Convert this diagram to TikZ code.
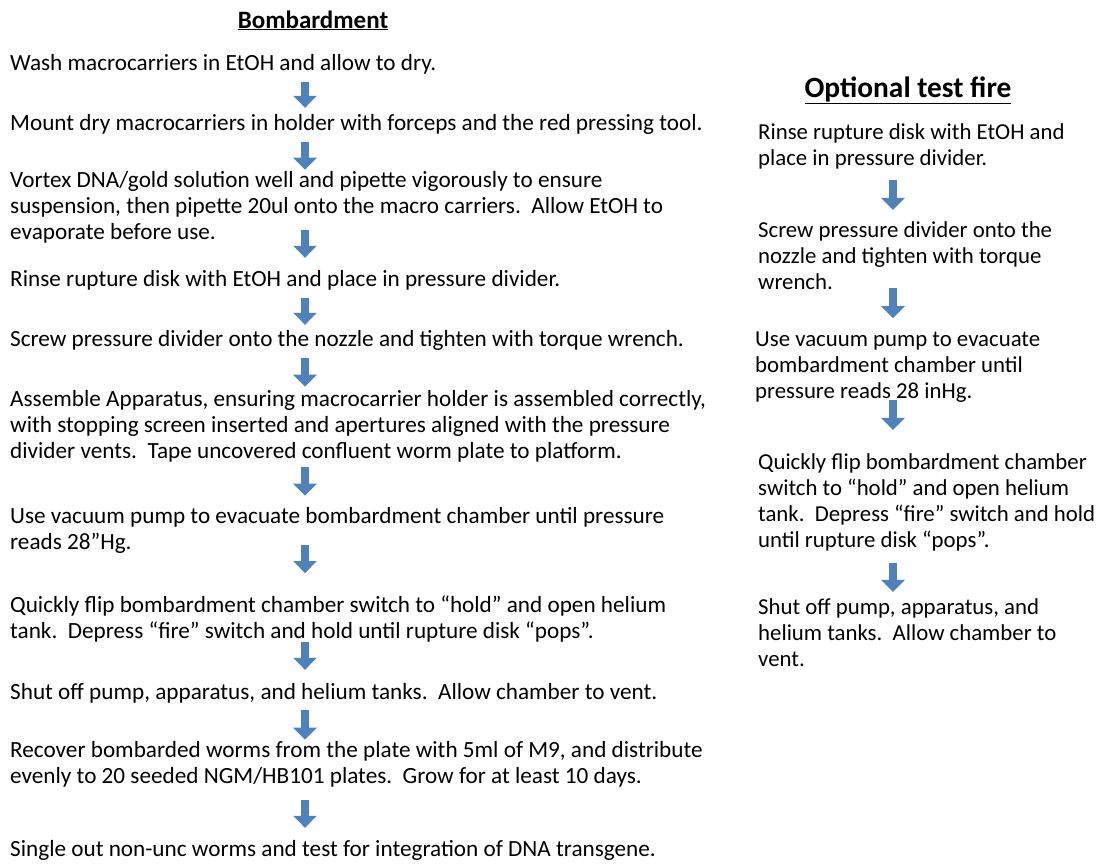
\documentclass[tikz,border=0pt]{standalone}
\usepackage{fontspec}
\setmainfont{Carlito}
\usepackage{xcolor}
\usepackage{tikz}
\usetikzlibrary{arrows.meta,positioning}
\definecolor{arrowblue}{HTML}{4F81BD}

\begin{document}
\begin{tikzpicture}[x=1pt,y=-1pt,
  title/.style={anchor=base,inner sep=0pt,font=\fontsize{25}{30}\selectfont\bfseries},
  % base anchor = last line; first line given a fixed height, last line a fixed depth
  stepbox/.style={anchor=base west,inner sep=0pt,align=left,
    execute at begin node={\vrule width 0pt height 18pt depth 0pt},
    execute at end node={\vrule width 0pt height 0pt depth 6pt},
    font=\fontsize{22.8}{26}\selectfont},
  lstep/.style={stepbox,font=\fontsize{23.2}{26}\selectfont},
  flow/.style={draw=arrowblue,line width=8pt,-{Triangle[width=23pt,length=12pt]}}]
  \useasboundingbox (0,0) rectangle (1102,863);
  % left column
  \node[title] (T1) at (313,28) {\underline{Bombardment}};
  \node[lstep] (B1)  at (10,70)  {Wash macrocarriers in EtOH and allow to dry.};
  \node[lstep] (B2)  at (10,130) {Mount dry macrocarriers in holder with forceps and the red pressing tool.};
  \node[lstep] (B3)  at (10,239) {Vortex DNA/gold solution well and pipette vigorously to ensure\\
    suspension, then pipette 20ul onto the macro carriers.\ \ Allow EtOH to\\
    evaporate before use.};
  \node[lstep] (B4)  at (10,286) {Rinse rupture disk with EtOH and place in pressure divider.};
  \node[lstep] (B5)  at (10,346) {Screw pressure divider onto the nozzle and tighten with torque wrench.};
  \node[lstep] (B6)  at (10,458) {Assemble Apparatus, ensuring macrocarrier holder is assembled correctly,\\
    with stopping screen inserted and apertures aligned with the pressure\\
    divider vents.\ \ Tape uncovered confluent worm plate to platform.};
  \node[lstep] (B7)  at (10,549) {Use vacuum pump to evacuate bombardment chamber until pressure\\
    reads 28”Hg.};
  \node[lstep] (B8)  at (10,638) {Quickly flip bombardment chamber switch to “hold” and open helium\\
    tank.\ \ Depress “fire” switch and hold until rupture disk “pops”.};
  \node[lstep] (B9)  at (10,699) {Shut off pump, apparatus, and helium tanks.\ \ Allow chamber to vent.};
  \node[lstep] (B10) at (10,783) {Recover bombarded worms from the plate with 5ml of M9, and distribute\\
    evenly to 20 seeded NGM/HB101 plates.\ \ Grow for at least 10 days.};
  \node[lstep] (B11) at (10,856) {Single out non-unc worms and test for integration of DNA transgene.};
  % right column
  \node[title,font=\fontsize{29.4}{34}\selectfont\bfseries] (T2) at (908,97) {\underline{Optional test fire}};
  \node[stepbox] (R1) at (758,165) {Rinse rupture disk with EtOH and\\place in pressure divider.};
  \node[stepbox] (R2) at (758,289) {Screw pressure divider onto the\\nozzle and tighten with torque\\wrench.};
  \node[stepbox] (R3) at (755,398) {Use vacuum pump to evacuate\\bombardment chamber until\\pressure reads 28 inHg.};
  \node[stepbox] (R4) at (758,547) {Quickly flip bombardment chamber\\switch to “hold” and open helium\\
    tank.\ \ Depress “fire” switch and hold\\until rupture disk “pops”.};
  \node[stepbox] (R5) at (758,666) {Shut off pump, apparatus, and\\helium tanks.\ \ Allow chamber to\\vent.};
  \coordinate (lx) at (305,0);
  \coordinate (rx) at (893,0);
  % arrows
  \draw[flow,shorten <=6pt,shorten >=4pt]    (B1.south -| lx)  -- (B2.north -| lx);
  \draw[flow,shorten <=6pt,shorten >=1pt]    (B2.south -| lx)  -- (B3.north -| lx);
  \draw[flow,shorten <=-15pt,shorten >=10pt] (B3.south -| lx)  -- (B4.north -| lx);
  \draw[flow,shorten <=6pt,shorten >=3pt]    (B4.south -| lx)  -- (B5.north -| lx);
  \draw[flow,shorten <=6pt,shorten >=3pt]    (B5.south -| lx)  -- (B6.north -| lx);
  \draw[flow,shorten <=3pt,shorten >=11pt]   (B6.south -| lx)  -- (B7.north -| lx);
  \draw[flow,shorten <=-10pt,shorten >=22pt] (B7.south -| lx)  -- (B8.north -| lx);
  \draw[flow,shorten <=-2pt,shorten >=11pt]  (B8.south -| lx)  -- (B9.north -| lx);
  \draw[flow,shorten <=5pt,shorten >=1pt]    (B9.south -| lx)  -- (B10.north -| lx);
  \draw[flow,shorten <=11pt,shorten >=10pt]  (B10.south -| lx) -- (B11.north -| lx);
  \draw[flow,shorten <=9pt,shorten >=11pt]   (R1.south -| rx) -- (R2.north -| rx);
  \draw[flow,shorten <=-7pt,shorten >=13pt]  (R2.south -| rx) -- (R3.north -| rx);
  \draw[flow,shorten <=-4pt,shorten >=23pt]  (R3.south -| rx) -- (R4.north -| rx);
  \draw[flow,shorten <=10pt,shorten >=6pt]   (R4.south -| rx) -- (R5.north -| rx);
\end{tikzpicture}
\end{document}
